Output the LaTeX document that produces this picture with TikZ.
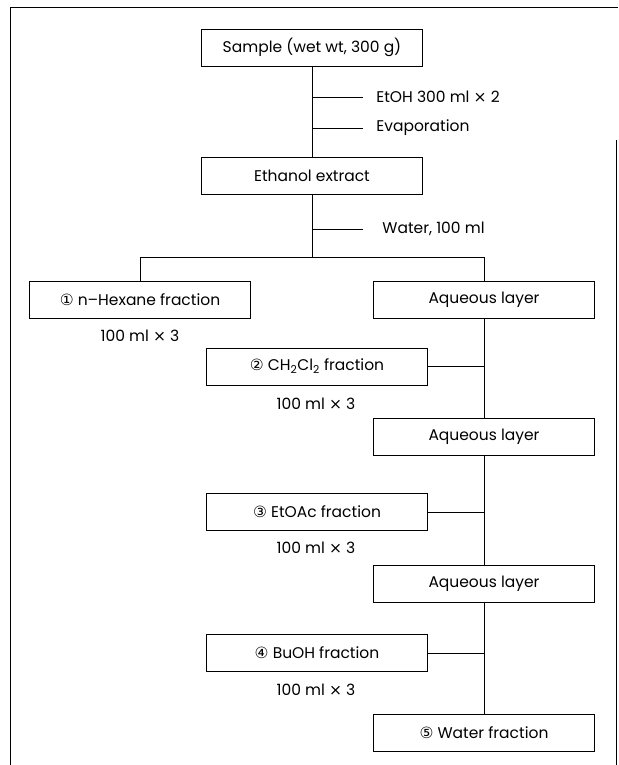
\documentclass[tikz,border=0pt]{standalone}
\usepackage{fontspec}
\setmainfont{Poppins}
\newfontfamily\circfont{DejaVu Sans}
\newcommand{\cnum}[1]{{\circfont #1}}
\begin{document}
\begin{tikzpicture}[x=1pt,y=-1pt,line width=0.8pt,font=\fontsize{15.5}{18}\selectfont]

      \useasboundingbox (0,0) rectangle (618,765);

      % outer frame
      \draw[line width=1pt] (10,765) -- (10,8) -- (618,8);
      \draw[line width=1pt] (616,140) -- (616,765);

      \begin{scope}[every node/.style={draw,rectangle,minimum width=221pt,minimum height=37pt,inner sep=0pt}]
        \node (sample)  at (312,47.5)  {Sample (wet wt, 300 g)};
        \node (extract) at (312,175.5) {Ethanol extract};
        \node (hex)     at (140,299.5) {\cnum{①} n--Hexane fraction};
        \node (aq1)     at (484,300)   {Aqueous layer};
        \node (dcm)     at (317,366.5) {\cnum{②} CH\textsubscript{2}Cl\textsubscript{2} fraction};
        \node (aq2)     at (484,436.5) {Aqueous layer};
        \node (ea)      at (317,512)   {\cnum{③} EtOAc fraction};
        \node (aq3)     at (484,583.5) {Aqueous layer};
        \node (bu)      at (317,653)   {\cnum{④} BuOH fraction};
        \node (wat)     at (484,732.5) {\cnum{⑤} Water fraction};
      \end{scope}

      \coordinate (t1)  at (312,97);
      \coordinate (t1e) at (363,97);
      \coordinate (t2)  at (312,128);
      \coordinate (t2e) at (363,128);
      \coordinate (t3)  at (312,229);
      \coordinate (t3e) at (363,229);
      \coordinate (sp)  at (312,257);

      \begin{scope}[every node/.style={anchor=west,inner sep=0pt}]
        \node (etoh) at (376,97)  {EtOH 300 ml \cnum{×} 2};
        \node (evap) at (376,128) {Evaporation};
        \node (h2o)  at (382,229) {Water, 100 ml};
      \end{scope}

      \begin{scope}[every node/.style={inner sep=0pt}]
        \node (v1) at (140,336) {100 ml \cnum{×} 3};
        \node (v2) at (316,404) {100 ml \cnum{×} 3};
        \node (v3) at (316,548) {100 ml \cnum{×} 3};
        \node (v4) at (316,690) {100 ml \cnum{×} 3};
      \end{scope}

      \draw (sample) -- (extract);
      \path (t1) edge (t1e);
      \path (t2) edge (t2e);
      \path (t3) edge (t3e);
      \draw (extract) -- (sp);
      \draw (hex.north) -- (hex.north |- sp) -- (aq1.north |- sp) -- (aq1.north);

      \draw (aq1) -- (aq2);
      \draw (aq2) -- (aq3);
      \draw (aq3) -- (wat);
      \draw (dcm.east) -- (dcm.east -| aq1.south);
      \draw (ea.east)  -- (ea.east -| aq1.south);
      \draw (bu.east)  -- (bu.east -| aq1.south);

\end{tikzpicture}
\end{document}
